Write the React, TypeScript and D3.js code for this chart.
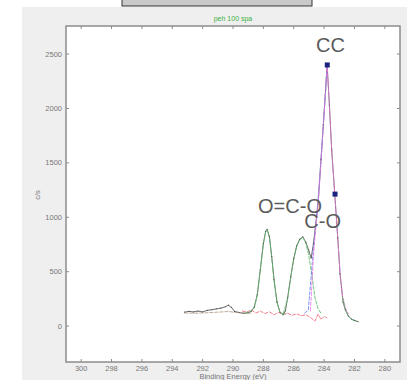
import React, { useEffect, useRef } from 'react';
import * as d3 from 'd3';

// binding energy (eV) / counts (c/s)
const measuredBE = [293.2, 292.9, 292.6, 292.3, 292.0, 291.7, 291.4, 291.1, 290.8, 290.5, 290.3, 290.1, 289.9, 289.6, 289.3, 289.0, 288.8, 288.6, 288.4, 288.2, 288.0, 287.85, 287.75, 287.6, 287.45, 287.3, 287.1, 286.9, 286.7, 286.55, 286.4, 286.2, 286.0, 285.8, 285.6, 285.4, 285.2, 285.0, 284.85, 284.7, 284.5, 284.38, 284.2, 284.05, 283.9, 283.8, 283.65, 283.5, 283.3, 283.1, 282.95, 282.75, 282.6, 282.4, 282.2, 282.0, 281.75];
const measuredCounts = [128, 135, 130, 138, 130, 145, 150, 158, 165, 178, 192, 172, 135, 125, 118, 122, 135, 175, 290, 520, 760, 870, 890, 820, 640, 430, 220, 125, 105, 140, 260, 450, 620, 740, 800, 820, 770, 690, 625, 760, 1000, 1150, 1530, 1850, 2170, 2400, 2030, 1620, 1220, 810, 480, 220, 150, 92, 65, 52, 40];

const oco_BE = [289.2, 288.9, 288.6, 288.4, 288.2, 288.0, 287.85, 287.75, 287.6, 287.45, 287.3, 287.1, 286.9, 286.7, 286.5];
const oco_Counts = [125, 130, 165, 285, 515, 755, 865, 885, 815, 635, 425, 215, 125, 110, 108];

const co_BE = [286.7, 286.4, 286.2, 286.0, 285.8, 285.6, 285.4, 285.2, 285.0, 284.8, 284.6, 284.4, 284.2];
const co_Counts = [110, 255, 445, 615, 735, 795, 815, 760, 640, 470, 260, 160, 118];

const ccBlueBE = [285.3, 285.04, 284.9, 284.7, 284.5, 284.38, 284.2, 284.0, 283.8];
const ccBlueCounts = [118, 147, 380, 715, 1000, 1200, 1550, 1950, 2400];

const ccPinkBE = [284.9, 284.7, 284.5, 284.38, 284.2, 284.05, 283.9, 283.8, 283.65, 283.5, 283.3, 283.1, 282.95, 282.8, 282.6, 282.4];
const ccPinkCounts = [140, 650, 980, 1150, 1530, 1850, 2170, 2400, 2030, 1620, 1220, 810, 490, 290, 170, 110];

const tailBE = [282.8, 282.6, 282.4, 282.2, 282.0, 281.8];
const tailCounts = [270, 155, 90, 62, 50, 42];

const redBE = [289.4, 289.1, 288.8, 288.5, 288.2, 287.9, 287.6, 287.3, 287.0, 286.7, 286.4, 286.1, 285.8, 285.5, 285.2, 284.9, 284.6, 284.4, 284.2, 284.0, 283.8];
const redCounts = [140, 128, 150, 120, 138, 115, 130, 105, 125, 110, 118, 100, 112, 95, 105, 80, 45, 110, 60, 90, 75];

const bgBE = [293.2, 292.5, 291.8, 291.0, 290.3, 289.6, 288.8];
const bgCounts = [120, 118, 122, 128, 134, 122, 118];

const markerBE = [283.79, 283.28];
const markerCounts = [2400, 1213];

const labels = ['CC', 'O=C-O', 'C-O'];
const labelBE = [284.53, 288.35, 285.3];
const labelCounts = [2516, 1036, 905];

const xTicks = [300, 298, 296, 294, 292, 290, 288, 286, 284, 282, 280];
const yTicks = [0, 500, 1000, 1500, 2000, 2500];

export default function App() {
  const ref = useRef<SVGSVGElement>(null);

  useEffect(() => {
    const svg = d3.select(ref.current);
    svg.selectAll('*').remove();

    const left = 66, right = 400, top = 26, bottom = 362;
    const x = d3.scaleLinear().domain([301, 279]).range([left, right]);
    const y = d3.scaleLinear().domain([-330, 2758]).range([bottom, top]);
    const font = 'Liberation Sans, Arial, sans-serif';

    // figure background + plot area
    svg.append('rect').attr('x', 22).attr('y', 7).attr('width', 385).attr('height', 373).attr('fill', '#efefef');
    svg.append('rect').attr('x', 122).attr('y', -1).attr('width', 190).attr('height', 7)
      .attr('fill', '#c9c9c9').attr('stroke', '#333').attr('stroke-width', 1);
    svg.append('rect').attr('x', left).attr('y', top).attr('width', right - left).attr('height', bottom - top).attr('fill', '#fff');

    const line = (bes: number[], counts: number[]) =>
      d3.line<number>().x((d, i) => x(bes[i])).y((d, i) => y(counts[i]))(counts);

    // measured spectrum underneath, fit components drawn over it
    svg.append('path')
      .attr('d', line(measuredBE, measuredCounts))
      .attr('fill', 'none')
      .attr('stroke', '#3a3a3a')
      .attr('stroke-width', 1)
      .attr('stroke-opacity', 0.75);

    const series = [
      { be: bgBE, c: bgCounts, color: '#b29a86' },
      { be: redBE, c: redCounts, color: '#f06a7a' },
      { be: oco_BE, c: oco_Counts, color: '#5cc068' },
      { be: co_BE, c: co_Counts, color: '#5cc068' },
      { be: ccBlueBE, c: ccBlueCounts, color: '#6a86f2' },
      { be: ccPinkBE, c: ccPinkCounts, color: '#ea78e2' },
      { be: tailBE, c: tailCounts, color: '#5cc068' },
    ];

    series.forEach(s => {
      svg.append('path')
        .attr('d', line(s.be, s.c))
        .attr('fill', 'none')
        .attr('stroke', s.color)
        .attr('stroke-width', 1)
        .attr('stroke-dasharray', '4 1')
        .attr('stroke-opacity', 0.85);
    });

    // small dots along the measured data
    svg.selectAll('.pt')
      .data(measuredCounts)
      .enter()
      .append('circle')
      .attr('cx', (d, i) => x(measuredBE[i]))
      .attr('cy', d => y(d))
      .attr('r', 0.6)
      .attr('fill', '#333')
      .attr('fill-opacity', 0.7);

    svg.selectAll('.mk')
      .data(markerCounts)
      .enter()
      .append('rect')
      .attr('x', (d, i) => x(markerBE[i]) - 2.5)
      .attr('y', d => y(d) - 2.5)
      .attr('width', 5)
      .attr('height', 5)
      .attr('fill', '#1a237e');

    // axes box with inward ticks
    const axisColor = '#8c8c8c';
    svg.append('rect').attr('x', left).attr('y', top).attr('width', right - left).attr('height', bottom - top)
      .attr('fill', 'none').attr('stroke', axisColor).attr('stroke-width', 1.5);

    xTicks.forEach(t => {
      svg.append('line').attr('x1', x(t)).attr('x2', x(t)).attr('y1', bottom).attr('y2', bottom - 3).attr('stroke', axisColor);
      svg.append('line').attr('x1', x(t)).attr('x2', x(t)).attr('y1', top).attr('y2', top + 3).attr('stroke', axisColor);
      svg.append('text').attr('x', x(t)).attr('y', bottom + 9).attr('text-anchor', 'middle')
        .attr('font-family', font).attr('font-size', 7.5).attr('fill', '#777').text(t);
    });

    yTicks.forEach(t => {
      svg.append('line').attr('x1', left).attr('x2', left + 3).attr('y1', y(t)).attr('y2', y(t)).attr('stroke', axisColor);
      svg.append('line').attr('x1', right).attr('x2', right - 3).attr('y1', y(t)).attr('y2', y(t)).attr('stroke', axisColor);
      svg.append('text').attr('x', left - 4).attr('y', y(t) + 2.5).attr('text-anchor', 'end')
        .attr('font-family', font).attr('font-size', 7.5).attr('fill', '#777').text(t);
    });

    svg.append('text').attr('x', 233).attr('y', 21).attr('text-anchor', 'middle')
      .attr('font-family', font).attr('font-size', 7).attr('fill', '#3cb043').text('peh 100 spa');

    svg.append('text').attr('x', 233).attr('y', 379).attr('text-anchor', 'middle')
      .attr('font-family', font).attr('font-size', 7.5).attr('fill', '#777').text('Binding Energy (eV)');

    svg.append('text').attr('transform', 'translate(40,195) rotate(-90)').attr('text-anchor', 'middle')
      .attr('font-family', font).attr('font-size', 7.5).attr('fill', '#777').text('c/s');

    labels.forEach((l, i) => {
      svg.append('text').attr('x', x(labelBE[i])).attr('y', y(labelCounts[i]))
        .attr('font-family', font).attr('font-size', 20).attr('fill', '#5a5a5a').text(l);
    });
  }, []);

  return (
    <svg ref={ref} width={407} height={380} style={{ position: 'absolute', left: 0, top: 0 }}></svg>
  );
}
